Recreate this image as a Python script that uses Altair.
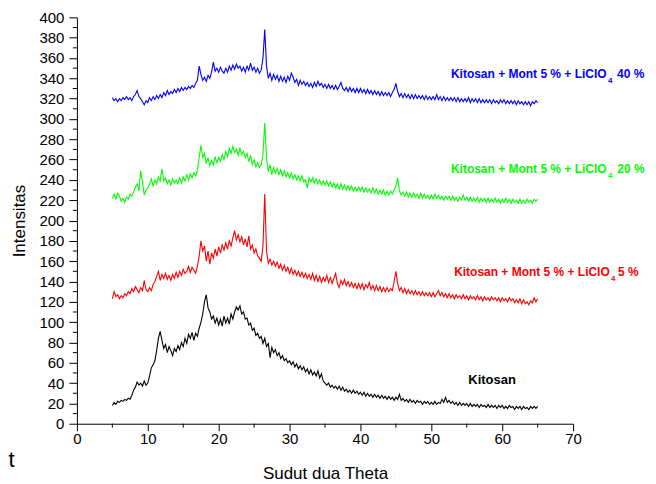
import altair as alt
import pandas as pd

# 2-theta sampling grid of the scans (degrees)
theta_start = 5.0
theta_step = 0.25

# Kitosan (black)
kitosan = [
    18, 21, 19, 22, 21, 23, 22, 24, 23, 25, 24, 28, 33, 36, 41, 38, 40, 37, 42, 38,
    40, 47, 55, 58, 62, 72, 84, 91, 82, 74, 78, 70, 76, 72, 67, 74, 71, 77, 73, 80,
    76, 84, 79, 88, 84, 90, 82, 89, 86, 94, 100, 108, 120, 127, 114, 110, 103, 106, 99, 104,
    97, 103, 96, 106, 99, 104, 98, 108, 103, 110, 115, 112, 116, 108, 110, 103, 104, 97, 99, 92,
    94, 87, 89, 84, 86, 79, 84, 76, 79, 65, 75, 70, 73, 67, 70, 64, 67, 62, 64, 60,
    62, 58, 61, 56, 59, 54, 57, 53, 56, 51, 54, 49, 53, 48, 51, 47, 52, 45, 49, 42,
    40, 38, 40, 36, 38, 35, 37, 34, 37, 33, 36, 32, 34, 31, 33, 30, 33, 30, 32, 29,
    31, 28, 31, 27, 30, 27, 29, 26, 29, 26, 28, 25, 28, 25, 27, 24, 27, 24, 26, 23,
    26, 24, 29, 23, 25, 22, 24, 21, 24, 21, 23, 20, 23, 21, 22, 19, 22, 20, 22, 19,
    21, 19, 22, 19, 21, 20, 24, 21, 26, 21, 23, 20, 22, 19, 21, 18, 21, 18, 20, 18,
    20, 17, 20, 17, 19, 17, 19, 16, 19, 17, 18, 16, 19, 16, 18, 16, 18, 15, 18, 16,
    18, 15, 17, 15, 18, 16, 17, 14, 17, 15, 17, 14, 17, 15, 16, 14, 17, 15, 17, 15,
    17,
]

# Kitosan + Mont 5 % + LiClO4 5 % (red)
licl_5 = [
    123, 130, 125, 127, 123, 126, 124, 128, 126, 130, 128, 133, 130, 135, 132, 129, 134, 131, 141, 132,
    130, 134, 131, 137, 140, 145, 150, 141, 147, 143, 148, 142, 146, 141, 147, 143, 149, 144, 150, 146,
    152, 148, 150, 155, 149, 154, 151, 148, 155, 165, 180, 170, 175, 160, 170, 157, 168, 163, 172, 165,
    174, 168, 176, 171, 178, 172, 180, 175, 183, 190, 181, 186, 179, 184, 176, 182, 174, 185, 172, 176,
    168, 172, 165, 163, 160, 175, 226, 170, 158, 162, 156, 160, 155, 159, 153, 157, 151, 156, 150, 154,
    148, 153, 147, 151, 146, 150, 145, 149, 144, 148, 143, 147, 142, 148, 141, 146, 140, 145, 139, 144,
    140, 146, 139, 144, 138, 143, 148, 138, 134, 141, 137, 142, 136, 140, 135, 139, 134, 138, 133, 138,
    133, 138, 132, 137, 134, 139, 132, 136, 131, 136, 131, 135, 130, 134, 130, 134, 130, 133, 131, 140,
    150, 138, 131, 134, 129, 133, 128, 132, 128, 131, 127, 131, 127, 130, 126, 130, 126, 129, 126, 129,
    125, 129, 125, 128, 131, 126, 129, 125, 128, 124, 128, 124, 127, 123, 127, 124, 126, 123, 127, 123,
    126, 122, 126, 123, 125, 122, 126, 122, 125, 121, 125, 122, 124, 121, 125, 122, 124, 121, 124, 120,
    124, 121, 123, 120, 124, 121, 123, 119, 122, 119, 123, 118, 122, 118, 120, 117, 121, 119, 124, 120,
    123,
]

# Kitosan + Mont 5 % + LiClO4 20 % (green)
licl_20 = [
    222, 226, 221, 227, 224, 219, 222, 218, 223, 221, 226, 224, 228, 233, 236, 229, 249, 238, 225, 230,
    232, 236, 241, 234, 240, 236, 243, 239, 251, 239, 242, 236, 240, 235, 241, 237, 240, 236, 242, 237,
    243, 239, 245, 240, 246, 242, 247, 244, 249, 262, 274, 262, 266, 256, 262, 254, 259, 255, 263, 257,
    262, 258, 265, 260, 268, 263, 271, 266, 273, 267, 270, 264, 271, 265, 268, 262, 266, 258, 264, 255,
    260, 253, 257, 252, 255, 265, 296, 262, 248, 255, 245, 252, 247, 251, 245, 250, 244, 249, 243, 247,
    242, 247, 241, 245, 240, 244, 239, 244, 238, 240, 232, 242, 238, 242, 237, 241, 236, 240, 235, 239,
    235, 239, 234, 238, 233, 237, 232, 236, 231, 236, 231, 235, 230, 234, 230, 234, 229, 233, 229, 233,
    229, 233, 228, 232, 228, 231, 227, 232, 227, 231, 226, 230, 226, 230, 225, 229, 225, 229, 226, 230,
    234, 242, 229, 225, 228, 224, 228, 223, 227, 223, 227, 223, 226, 222, 227, 222, 226, 222, 225, 221,
    225, 221, 226, 222, 225, 221, 224, 220, 224, 221, 224, 220, 224, 220, 223, 219, 223, 220, 225, 220,
    223, 219, 223, 219, 222, 219, 223, 218, 222, 219, 222, 218, 222, 218, 221, 218, 222, 218, 221, 217,
    221, 218, 222, 218, 221, 217, 221, 218, 220, 217, 221, 217, 220, 217, 221, 218, 220, 217, 221, 219,
    221,
]

# Kitosan + Mont 5 % + LiClO4 40 % (blue)
licl_40 = [
    321, 318, 320, 317, 320, 318, 321, 319, 322, 319, 321, 318, 322, 324, 328, 322, 320, 317, 314, 318,
    316, 321, 318, 322, 319, 323, 320, 324, 321, 326, 323, 328, 324, 327, 325, 329, 326, 330, 327, 331,
    328, 331, 329, 332, 330, 333, 331, 335, 338, 352, 344, 338, 341, 337, 343, 340, 346, 356, 347, 350,
    346, 351, 347, 345, 350, 346, 352, 348, 353, 349, 354, 350, 352, 347, 351, 346, 352, 348, 355, 348,
    351, 346, 350, 345, 348, 360, 388, 352, 340, 345, 338, 344, 339, 343, 337, 342, 337, 341, 336, 342,
    338, 345, 341, 336, 339, 333, 338, 334, 337, 333, 336, 332, 335, 331, 336, 332, 337, 333, 335, 331,
    334, 330, 334, 330, 333, 329, 333, 329, 332, 336, 330, 328, 331, 327, 331, 327, 330, 326, 330, 326,
    330, 326, 329, 325, 329, 325, 328, 324, 328, 324, 327, 323, 327, 323, 326, 323, 326, 322, 326, 329,
    335, 327, 322, 325, 321, 325, 321, 324, 320, 324, 320, 324, 320, 323, 320, 323, 319, 323, 319, 322,
    319, 322, 319, 324, 319, 322, 318, 322, 318, 321, 318, 321, 318, 321, 317, 321, 317, 320, 317, 320,
    317, 321, 316, 320, 317, 320, 316, 320, 316, 319, 316, 319, 316, 319, 315, 319, 316, 318, 315, 319,
    316, 319, 315, 318, 315, 318, 315, 318, 314, 318, 315, 317, 314, 317, 314, 317, 313, 317, 315, 318,
    316,
]

series_names = ["Kitosan", "LiClO4 5 %", "LiClO4 20 %", "LiClO4 40 %"]
series_colors = ["#000000", "#ff0000", "#00ff00", "#0000ff"]
series_values = [kitosan, licl_5, licl_20, licl_40]

# axis tick values
x_major = [0, 10, 20, 30, 40, 50, 60, 70]
x_minor = [5, 15, 25, 35, 45, 55, 65]
y_major = list(range(0, 401, 20))
y_minor = list(range(10, 400, 20))

rows = []
for name, ys in zip(series_names, series_values):
    for i, v in enumerate(ys):
        rows.append({"theta": theta_start + theta_step * i, "intensity": v, "series": name})
df = pd.DataFrame(rows)

# annotation texts (positions in data units)
ann_main_text = ["Kitosan + Mont 5 % + LiClO", "Kitosan + Mont 5 % + LiClO", "Kitosan + Mont 5 % + LiClO"]
ann_main_x = [74.72, 74.72, 75.17]
ann_main_y = [340.0, 247.0, 145.5]
ann_colors = ["#0000ff", "#00ff00", "#ff0000"]
ann_sub_x = [74.93, 74.93, 75.35]
ann_sub_y = [335.1, 242.3, 140.5]
ann_suffix_text = ["40 %", "20 %", "5 %"]
ann_suffix_x = [76.2, 76.24, 76.34]

main_df = pd.DataFrame({"theta": ann_main_x, "intensity": ann_main_y, "t": ann_main_text, "c": ann_colors})
sub_df = pd.DataFrame({"theta": ann_sub_x, "intensity": ann_sub_y, "t": ["4", "4", "4"], "c": ann_colors})
suf_df = pd.DataFrame({"theta": ann_suffix_x, "intensity": ann_main_y, "t": ann_suffix_text, "c": ann_colors})
kit_df = pd.DataFrame({"theta": [55.21], "intensity": [39.3], "t": ["Kitosan"]})
stray_df = pd.DataFrame({"theta": [-9.65], "intensity": [-42.3], "t": ["t"]})
xminor_df = pd.DataFrame({"theta": x_minor})
yminor_df = pd.DataFrame({"intensity": y_minor})

FONT = "Liberation Sans"
H = 407

x_scale = alt.Scale(domain=[0, 70], nice=False, zero=False)
y_scale = alt.Scale(domain=[0, 400], nice=False)

x_axis = alt.Axis(
    values=x_major, tickSize=7,
    grid=False, domainColor="black", tickColor="black", domainWidth=1, tickWidth=1,
    labelFont=FONT, labelFontSize=15, labelColor="black", labelPadding=1,
    labelOverlap=False, labelFlush=False, labelBound=False,
    title="Sudut dua Theta", titleFont=FONT, titleFontSize=17, titleFontWeight="normal",
    titleColor="black", titleX=248.5, titleY=55, titleAlign="center", titleBaseline="alphabetic",
)
y_axis = alt.Axis(
    values=y_major, tickSize=8,
    grid=False, domainColor="black", tickColor="black", domainWidth=1, tickWidth=1,
    labelFont=FONT, labelFontSize=15, labelColor="black", labelPadding=5,
    labelOverlap=False, labelFlush=False, labelBound=False, labelSeparation=0,
    title="Intensitas", titleFont=FONT, titleFontSize=17, titleFontWeight="normal",
    titleColor="black", titleX=-57, titleY=203.5, titleAngle=270,
    titleAlign="center", titleBaseline="middle",
)

# identical x / y definitions for every layer so the merged axes keep these settings
X = alt.X("theta:Q", scale=x_scale, axis=x_axis)
Y = alt.Y("intensity:Q", scale=y_scale, axis=y_axis)

lines = alt.Chart(df).mark_line(strokeWidth=1.1).encode(
    x=X, y=Y,
    color=alt.Color("series:N", scale=alt.Scale(domain=series_names, range=series_colors), legend=None),
    detail="series:N",
)

main_txt = alt.Chart(main_df).mark_text(
    align="right", baseline="alphabetic", font=FONT, fontSize=12, fontWeight="bold"
).encode(x=X, y=Y, text="t:N", color=alt.Color("c:N", scale=None))

sub_txt = alt.Chart(sub_df).mark_text(
    align="left", baseline="alphabetic", font=FONT, fontSize=8, fontWeight="bold"
).encode(x=X, y=Y, text="t:N", color=alt.Color("c:N", scale=None))

suf_txt = alt.Chart(suf_df).mark_text(
    align="left", baseline="alphabetic", font=FONT, fontSize=12, fontWeight="bold"
).encode(x=X, y=Y, text="t:N", color=alt.Color("c:N", scale=None))

kit_txt = alt.Chart(kit_df).mark_text(
    align="left", baseline="alphabetic", font=FONT, fontSize=13, fontWeight="bold", color="black"
).encode(x=X, y=Y, text="t:N")

stray_txt = alt.Chart(stray_df).mark_text(
    align="left", baseline="alphabetic", font=FONT, fontSize=22, color="black"
).encode(x=X, y=Y, text="t:N")

# minor ticks (shorter) on both axes
xminor = alt.Chart(xminor_df).mark_rule(color="black", strokeWidth=1).encode(
    x=X, y=alt.value(H), y2=alt.value(H + 4)
)
yminor = alt.Chart(yminor_df).mark_rule(color="black", strokeWidth=1).encode(
    y=Y, x=alt.value(-4), x2=alt.value(0)
)

chart = alt.layer(lines, xminor, yminor, main_txt, sub_txt, suf_txt, kit_txt, stray_txt).properties(
    width=497,
    height=H,
    padding={"left": 69, "top": 9, "right": 75, "bottom": 58},
    autosize=alt.AutoSizeParams(type="none"),
    background="white",
).configure_view(strokeWidth=0).configure_axis(labelOverlap=False)

chart.save("out.html", embed_options={"renderer": "svg", "actions": False})
